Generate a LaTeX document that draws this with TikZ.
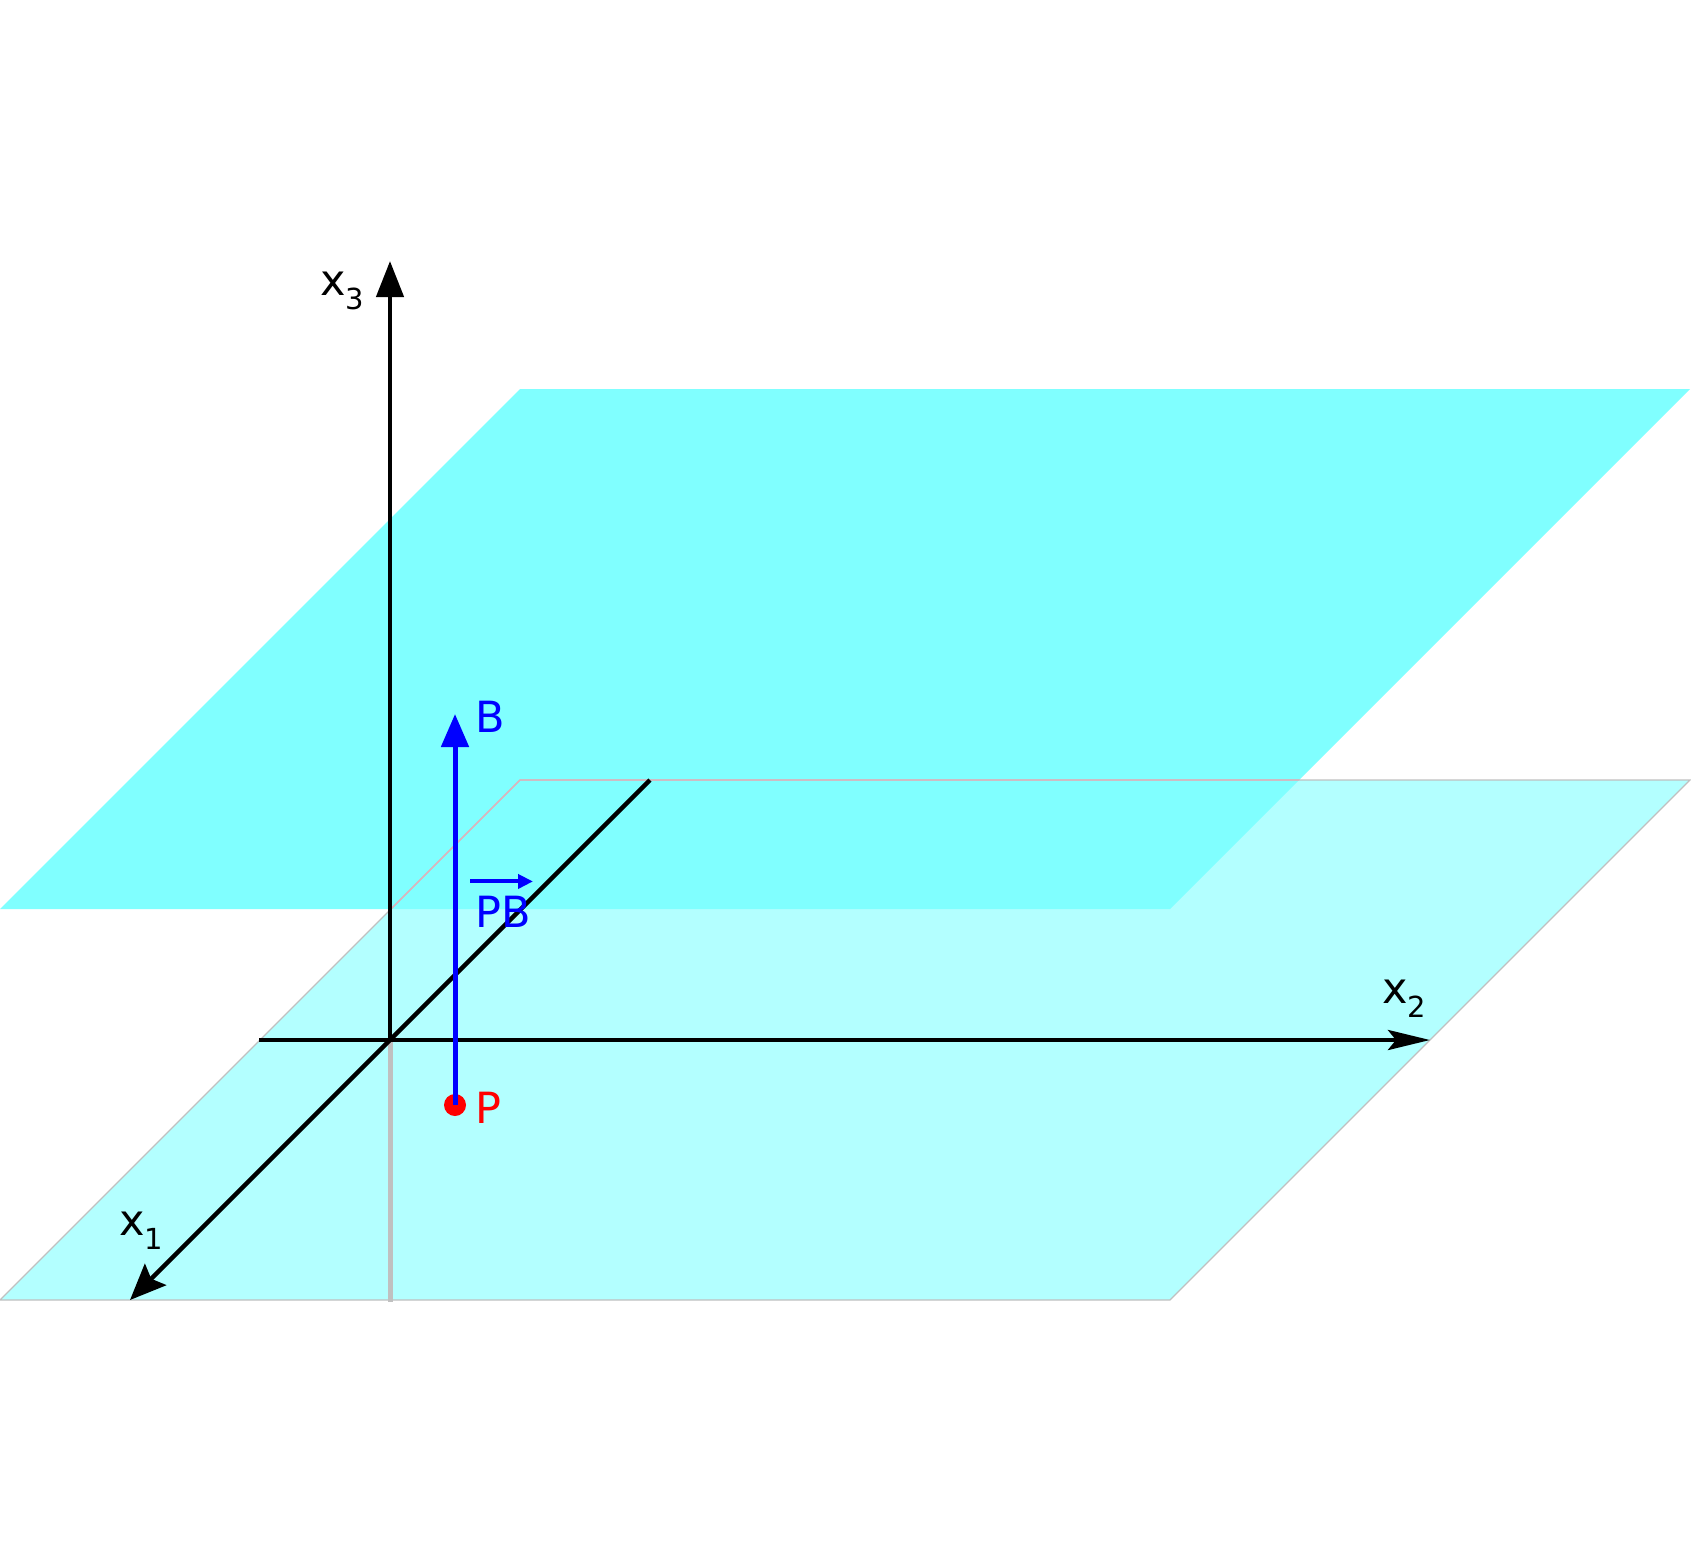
\documentclass[tikz,border=0pt]{standalone}
\usepackage{fontspec}
\setmainfont{DejaVu Sans}
\usetikzlibrary{arrows.meta}
\definecolor{upperplane}{RGB}{128,255,255}
\definecolor{lowerplane}{RGB}{179,255,255}
\definecolor{edgegray}{RGB}{192,192,192}
\definecolor{edgepink}{RGB}{226,176,186}
\newcommand{\axlabelfont}{\fontsize{43pt}{50pt}\selectfont}
\newcommand{\sublbl}[1]{\raisebox{-14pt}{\fontsize{29pt}{30pt}\selectfont #1}}
\begin{document}
\begin{tikzpicture}[x=1pt,y=-1pt,
  axis/.style={line width=4.5pt, black},
  planeedge/.style={line width=1.2pt},
  lab/.style={inner sep=0pt, anchor=base west, font=\axlabelfont},
  vecline/.style={blue, line width=5pt}]
\useasboundingbox (0,0) rectangle (1691,1561);
% plane corners
\coordinate (L1) at (0,1300);
\coordinate (L2) at (1170,1300);
\coordinate (L3) at (1690,780);
\coordinate (L4) at (520,780);
\coordinate (U1) at (0,909);
\coordinate (U2) at (1170,909);
\coordinate (U3) at (1690,389);
\coordinate (U4) at (520,389);
% planes
\fill[lowerplane] (L1) -- (L2) -- (L3) -- (L4) -- cycle;
\fill[upperplane] (U1) -- (U2) -- (U3) -- (U4) -- cycle;
\draw[planeedge, edgegray] (L1) -- (L2) -- (L3) -- (L4) -- cycle;
\begin{scope}
  \clip (U1) -- (U2) -- (U3) -- (U4) -- cycle;
  \draw[planeedge, edgepink] (L1) -- (L2) -- (L3) -- (L4) -- cycle;
\end{scope}
% axes
\coordinate (O) at (390,1040);
\coordinate (X3low) at (390,1302);
\coordinate (X3tip) at (390,261);
\coordinate (X2start) at (259,1040);
\coordinate (X2tip) at (1430,1040);
\coordinate (X1start) at (650,780);
\coordinate (X1tip) at (130,1300);
\draw[edgegray, line width=5pt] (O) -- (X3low);
\draw[axis, -{Triangle[length=36pt,width=27pt]}] (O) -- (X3tip);
\draw[axis, -{Stealth[length=42pt,width=20pt,inset=8pt]}] (X2start) -- (X2tip);
\draw[axis, -{Stealth[length=36pt,width=30pt,inset=6pt]}] (X1start) -- (X1tip);
% vector
\node[circle, fill=red, inner sep=0pt, minimum size=22pt] (P) at (455,1105) {};
\coordinate (B) at (455,714);
\draw[vecline, -{Triangle[length=33pt,width=27pt]}] (P.center) -- (B);
% labels
\node[lab] (x3l) at (320,295) {x\sublbl{3}};
\node[lab] (x2l) at (1382,1003) {x\sublbl{2}};
\node[lab] (x1l) at (119,1235) {x\sublbl{1}};
\node[lab, text=blue] (Bl) at (475,732) {B};
\node[lab, text=red] (Pl) at (475,1123) {P};
\node[lab, text=blue] (PBl) at (475,927) {PB};
\draw[blue, line width=4pt, -{Triangle[length=15pt,width=14pt]}]
  ([shift={(-5,-14)}]PBl.north west) -- ([shift={(58,-14)}]PBl.north west);
\end{tikzpicture}
\end{document}
